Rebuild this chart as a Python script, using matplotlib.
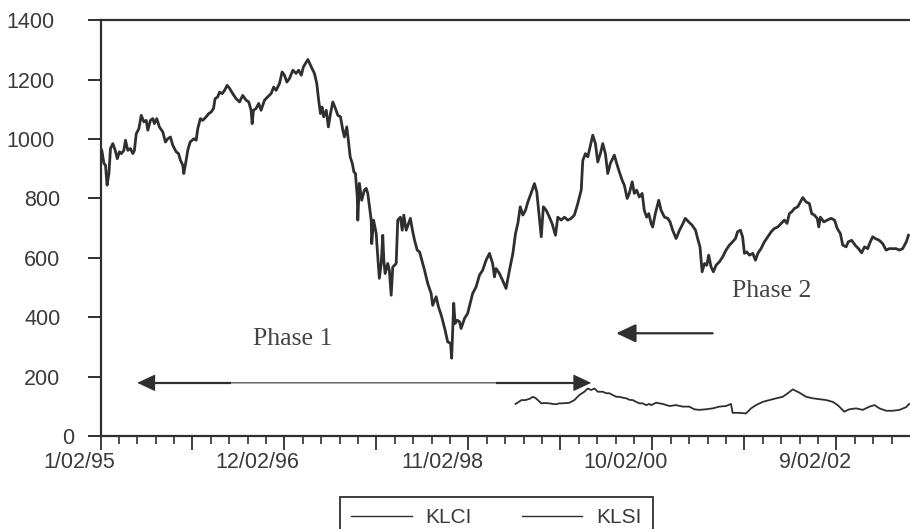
import numpy as np
import pandas as pd
import matplotlib
matplotlib.use("Agg")
import matplotlib.pyplot as plt
import matplotlib.dates as mdates
from matplotlib.transforms import ScaledTranslation

plt.rcParams["font.family"] = ["Liberation Sans", "DejaVu Sans"]

# ---- data -----------------------------------------------------------------
START = pd.Timestamp("1995-01-02")

# KLCI: calendar-day offset from START and index level
klci_day = [
    0, 5, 13, 19, 25, 32, 38, 47, 56, 64,
    72, 79, 89, 95, 104, 114, 123, 129, 136, 146,
    155, 165, 174, 180, 190, 199, 205, 214, 224, 237,
    247, 256, 266, 275, 288, 297, 304, 313, 317, 326,
    332, 341, 355, 364, 370, 380, 389, 402, 412, 421,
    430, 436, 446, 453, 463, 472, 482, 491, 503, 516,
    529, 541, 554, 564, 573, 577, 582, 592, 602, 611,
    624, 636, 649, 659, 668, 681, 691, 700, 709, 719,
    732, 744, 754, 764, 772, 789, 802, 814, 823, 830,
    837, 843, 849, 859, 867, 875, 884, 894, 903, 913,
    922, 928, 937, 943, 950, 958, 964, 970, 977, 979,
    985, 994, 1004, 1011, 1017, 1024, 1030, 1032, 1039, 1049,
    1055, 1061, 1068, 1074, 1078, 1083, 1093, 1099, 1106, 1112,
    1125, 1131, 1141, 1148, 1154, 1163, 1172, 1179, 1188, 1195,
    1205, 1214, 1226, 1233, 1245, 1258, 1264, 1277, 1286, 1298,
    1311, 1321, 1332, 1336, 1344, 1349, 1357, 1366, 1372, 1385,
    1397, 1408, 1416, 1429, 1442, 1454, 1467, 1480, 1492, 1499,
    1505, 1518, 1530, 1543, 1556, 1569, 1579, 1588, 1597, 1607,
    1617, 1626, 1638, 1651, 1660, 1667, 1677, 1685, 1696, 1708,
    1718, 1731, 1740, 1753, 1765, 1778, 1791, 1803, 1816, 1829,
    1835, 1845, 1854, 1863, 1873, 1883, 1892, 1902, 1911, 1921,
    1930, 1940, 1955, 1964, 1972, 1985, 1993, 2004, 2012, 2023,
    2031, 2040, 2050, 2061, 2069, 2078, 2086, 2095, 2101, 2111,
    2124, 2133, 2146, 2158, 2167, 2177, 2190, 2203, 2213, 2225,
    2238, 2251, 2264, 2272, 2281, 2289, 2298, 2307, 2314, 2323,
    2332, 2342, 2355, 2367, 2380, 2393, 2405, 2416, 2424, 2435,
    2443, 2450, 2459, 2469, 2482, 2492, 2501, 2513, 2526, 2539,
    2552, 2564, 2577, 2590, 2602, 2612, 2621, 2630, 2640, 2653,
    2663, 2672, 2685, 2697, 2706, 2716, 2727, 2733, 2739, 2752,
    2765, 2780, 2793, 2803, 2815, 2824, 2837, 2845, 2858, 2871,
    2884, 2896, 2907, 2919, 2929, 2938, 2948, 2963, 2976, 2989,
    3001, 3014, 3027, 3040, 3052, 3066, 3074,
]
klci_value = [
    969, 962, 918, 912, 845, 884, 968, 985, 962, 934,
    957, 951, 962, 996, 962, 968, 951, 962, 1018, 1035,
    1080, 1058, 1063, 1030, 1063, 1069, 1052, 1069, 1041, 1024,
    990, 1001, 1007, 979, 957, 951, 929, 912, 884, 929,
    962, 990, 1001, 996, 1035, 1069, 1063, 1075, 1086, 1091,
    1103, 1136, 1142, 1158, 1153, 1164, 1181, 1171, 1153, 1136,
    1125, 1147, 1131, 1125, 1097, 1052, 1097, 1103, 1120, 1097,
    1131, 1142, 1153, 1175, 1164, 1187, 1226, 1215, 1192, 1204,
    1232, 1221, 1232, 1215, 1243, 1268, 1243, 1221, 1187, 1131,
    1086, 1108, 1075, 1097, 1041, 1086, 1125, 1103, 1080, 1075,
    1030, 1007, 1041, 996, 940, 918, 890, 884, 805, 727,
    851, 794, 828, 834, 817, 767, 727, 648, 727, 682,
    603, 531, 581, 676, 592, 547, 581, 558, 474, 569,
    581, 727, 737, 693, 744, 693, 716, 733, 688, 659,
    626, 620, 581, 558, 514, 480, 440, 469, 435, 402,
    357, 317, 312, 262, 447, 379, 390, 385, 362, 396,
    413, 452, 480, 502, 542, 558, 592, 615, 581, 536,
    564, 547, 524, 497, 558, 615, 682, 716, 772, 744,
    760, 788, 817, 850, 822, 760, 671, 772, 760, 737,
    716, 676, 737, 727, 737, 727, 733, 744, 783, 828,
    928, 951, 940, 974, 1013, 985, 923, 951, 985, 951,
    884, 918, 946, 918, 895, 861, 845, 800, 817, 856,
    817, 828, 805, 817, 760, 737, 749, 716, 704, 749,
    794, 760, 737, 733, 721, 693, 665, 693, 710, 733,
    721, 710, 693, 665, 637, 553, 581, 575, 609, 570,
    553, 575, 587, 603, 626, 643, 654, 665, 688, 693,
    671, 615, 620, 609, 615, 592, 615, 631, 654, 671,
    688, 699, 704, 716, 727, 716, 749, 755, 766, 772,
    788, 803, 788, 783, 749, 744, 733, 704, 737, 721,
    727, 733, 727, 699, 682, 643, 637, 654, 659, 643,
    631, 617, 637, 631, 654, 671, 665, 659, 648, 626,
    631, 631, 631, 626, 631, 654, 676,
]

# KLSI: calendar-day offset from START and index level
klsi_day = [
    1579, 1590, 1602, 1617, 1632, 1645, 1655, 1664, 1677, 1689,
    1708, 1720, 1734, 1746, 1758, 1772, 1784, 1803, 1822, 1841,
    1854, 1867, 1880, 1892, 1911, 1924, 1936, 1949, 1962, 1974,
    1987, 2000, 2012, 2025, 2038, 2050, 2063, 2076, 2088, 2095,
    2114, 2139, 2165, 2190, 2215, 2240, 2259, 2278, 2304, 2329,
    2355, 2380, 2399, 2405, 2431, 2456, 2475, 2494, 2520, 2545,
    2571, 2596, 2615, 2634, 2659, 2685, 2710, 2735, 2761, 2786,
    2805, 2830, 2849, 2875, 2900, 2926, 2945, 2964, 2989, 3014,
    3040, 3065, 3077,
]
klsi_value = [
    108, 114, 121, 121, 125, 132, 128, 121, 110, 111,
    110, 108, 107, 110, 110, 111, 112, 121, 138, 149,
    160, 155, 160, 149, 149, 144, 144, 138, 132, 132,
    129, 127, 122, 121, 115, 110, 110, 104, 108, 104,
    112, 108, 101, 104, 99, 99, 90, 88, 90, 93,
    99, 101, 108, 78, 78, 76, 93, 104, 115, 121,
    127, 132, 144, 157, 146, 132, 127, 124, 121, 115,
    104, 82, 90, 93, 88, 99, 104, 93, 85, 85,
    88, 97, 108,
]

series_names = ["KLCI", "KLSI"]
tick_dates = ["1995-01-02", "1996-12-02", "1998-11-02", "2000-10-02", "2002-09-02"]
tick_labels = ["1/02/95", "12/02/96", "11/02/98", "10/02/00", "9/02/02"]
y_ticks = [0, 200, 400, 600, 800, 1000, 1200, 1400]

# Phase annotations: (start day, end day, level)
phase1_span = (140, 1867, 179)
phase2_span = (2329, 1962, 346)
phase1_label = (579, 306)
phase2_label = (2404, 469)

# ---- figure ---------------------------------------------------------------
W, H = 910, 529
DPI = 100
INK = "#2f2f2f"
TXT = "#3a3a3a"

fig = plt.figure(figsize=(W / DPI, H / DPI), dpi=DPI, facecolor="white")
ax = fig.add_axes([100.5 / W, 1 - 436 / H, (W - 100.5) / W, (436 - 20.3) / H])


def to_num(days):
    return mdates.date2num(START + pd.to_timedelta(np.asarray(days), unit="D"))


line_klci, = ax.plot(to_num(klci_day), klci_value, color=INK, lw=2.0,
                     solid_joinstyle="round")
line_klsi, = ax.plot(to_num(klsi_day), klsi_value, color=INK, lw=1.3,
                     solid_joinstyle="round")

x0 = mdates.date2num(START)
ax.set_xlim(x0, x0 + 3080)
ax.set_ylim(0, 1400)

# major ticks every 350 days (labels on alternate ones), minor every 70 days
labelled = mdates.date2num(pd.to_datetime(tick_dates))
mids = (labelled[:-1] + labelled[1:]) / 2
majors = np.sort(np.concatenate([labelled, mids]))
label_map = dict(zip(np.round(labelled, 3), tick_labels))
ax.set_xticks(majors)
ax.set_xticklabels([label_map.get(round(m, 3), "") for m in majors])
ax.set_xticks(np.arange(x0, x0 + 3080, 70), minor=True)

ax.set_yticks(y_ticks)
ax.set_yticklabels([str(v) for v in y_ticks])

for side in ("left", "top", "bottom"):
    ax.spines[side].set_linewidth(1.6)
    ax.spines[side].set_color(INK)
ax.spines["right"].set_visible(False)

ax.tick_params(axis="x", which="major", direction="out", length=9.8, width=1.3,
               color=INK, labelsize=15.5, labelcolor=TXT, pad=2)
ax.tick_params(axis="x", which="minor", direction="out", length=6.0, width=1.2,
               color=INK)
ax.tick_params(axis="y", which="major", direction="out", length=9.4, width=1.4,
               color=INK, labelsize=15.5, labelcolor=TXT, pad=19.4)

# x labels sit just to the left of their tick
for lbl in ax.get_xticklabels():
    lbl.set_horizontalalignment("right")
    lbl.set_transform(lbl.get_transform()
                      + ScaledTranslation(15 / DPI, 0, fig.dpi_scale_trans))

# y labels: staggered by digit count
shift = {4: -6, 3: 0, 2: 0, 1: 14}
for lbl, v in zip(ax.get_yticklabels(), y_ticks):
    dx = shift[len(str(v))]
    lbl.set_transform(lbl.get_transform()
                      + ScaledTranslation(dx / DPI, 0, fig.dpi_scale_trans))

# ---- phase arrows and labels ---------------------------------------------
a, b, lvl = phase1_span
ax.annotate("", xy=(to_num(b), lvl), xytext=(to_num(a), lvl),
            arrowprops=dict(arrowstyle="<|-|>,head_length=11.5,head_width=5.4",
                            mutation_scale=1, lw=0.8, color=INK,
                            shrinkA=0, shrinkB=0))
ax.plot([to_num(a + 20), to_num(a + 358)], [lvl, lvl], color=INK, lw=1.6,
        solid_capstyle="butt")
ax.plot([to_num(1506), to_num(b - 20)], [lvl, lvl], color=INK, lw=1.6,
        solid_capstyle="butt")

a, b, lvl = phase2_span
ax.annotate("", xy=(to_num(b), lvl), xytext=(to_num(a), lvl),
            arrowprops=dict(arrowstyle="-|>,head_length=12,head_width=5.6",
                            mutation_scale=1, lw=1.6, color=INK,
                            shrinkA=0, shrinkB=0))

for (d, v), s in zip([phase1_label, phase2_label], ["Phase 1", "Phase 2"]):
    ax.text(to_num(d), v, s, family=["Liberation Serif", "DejaVu Serif"],
            fontsize=18.5, color="#444444", ha="left", va="baseline")

# ---- legend ---------------------------------------------------------------
leg = fig.legend([line_klci, line_klsi], series_names, loc="upper left",
                 bbox_to_anchor=(340 / W, 1 - 496.7 / H),
                 bbox_transform=fig.transFigure, ncol=2, fontsize=15,
                 handlelength=2.9, handletextpad=0.65, columnspacing=2.4,
                 borderpad=0.55, borderaxespad=0, frameon=True, fancybox=False,
                 edgecolor=INK, framealpha=1)
leg.get_frame().set_linewidth(1.3)
for h in leg.get_lines():
    h.set_linewidth(1.0)
for t in leg.get_texts():
    t.set_color(TXT)

fig.savefig("out.png", dpi=DPI, facecolor="white")
